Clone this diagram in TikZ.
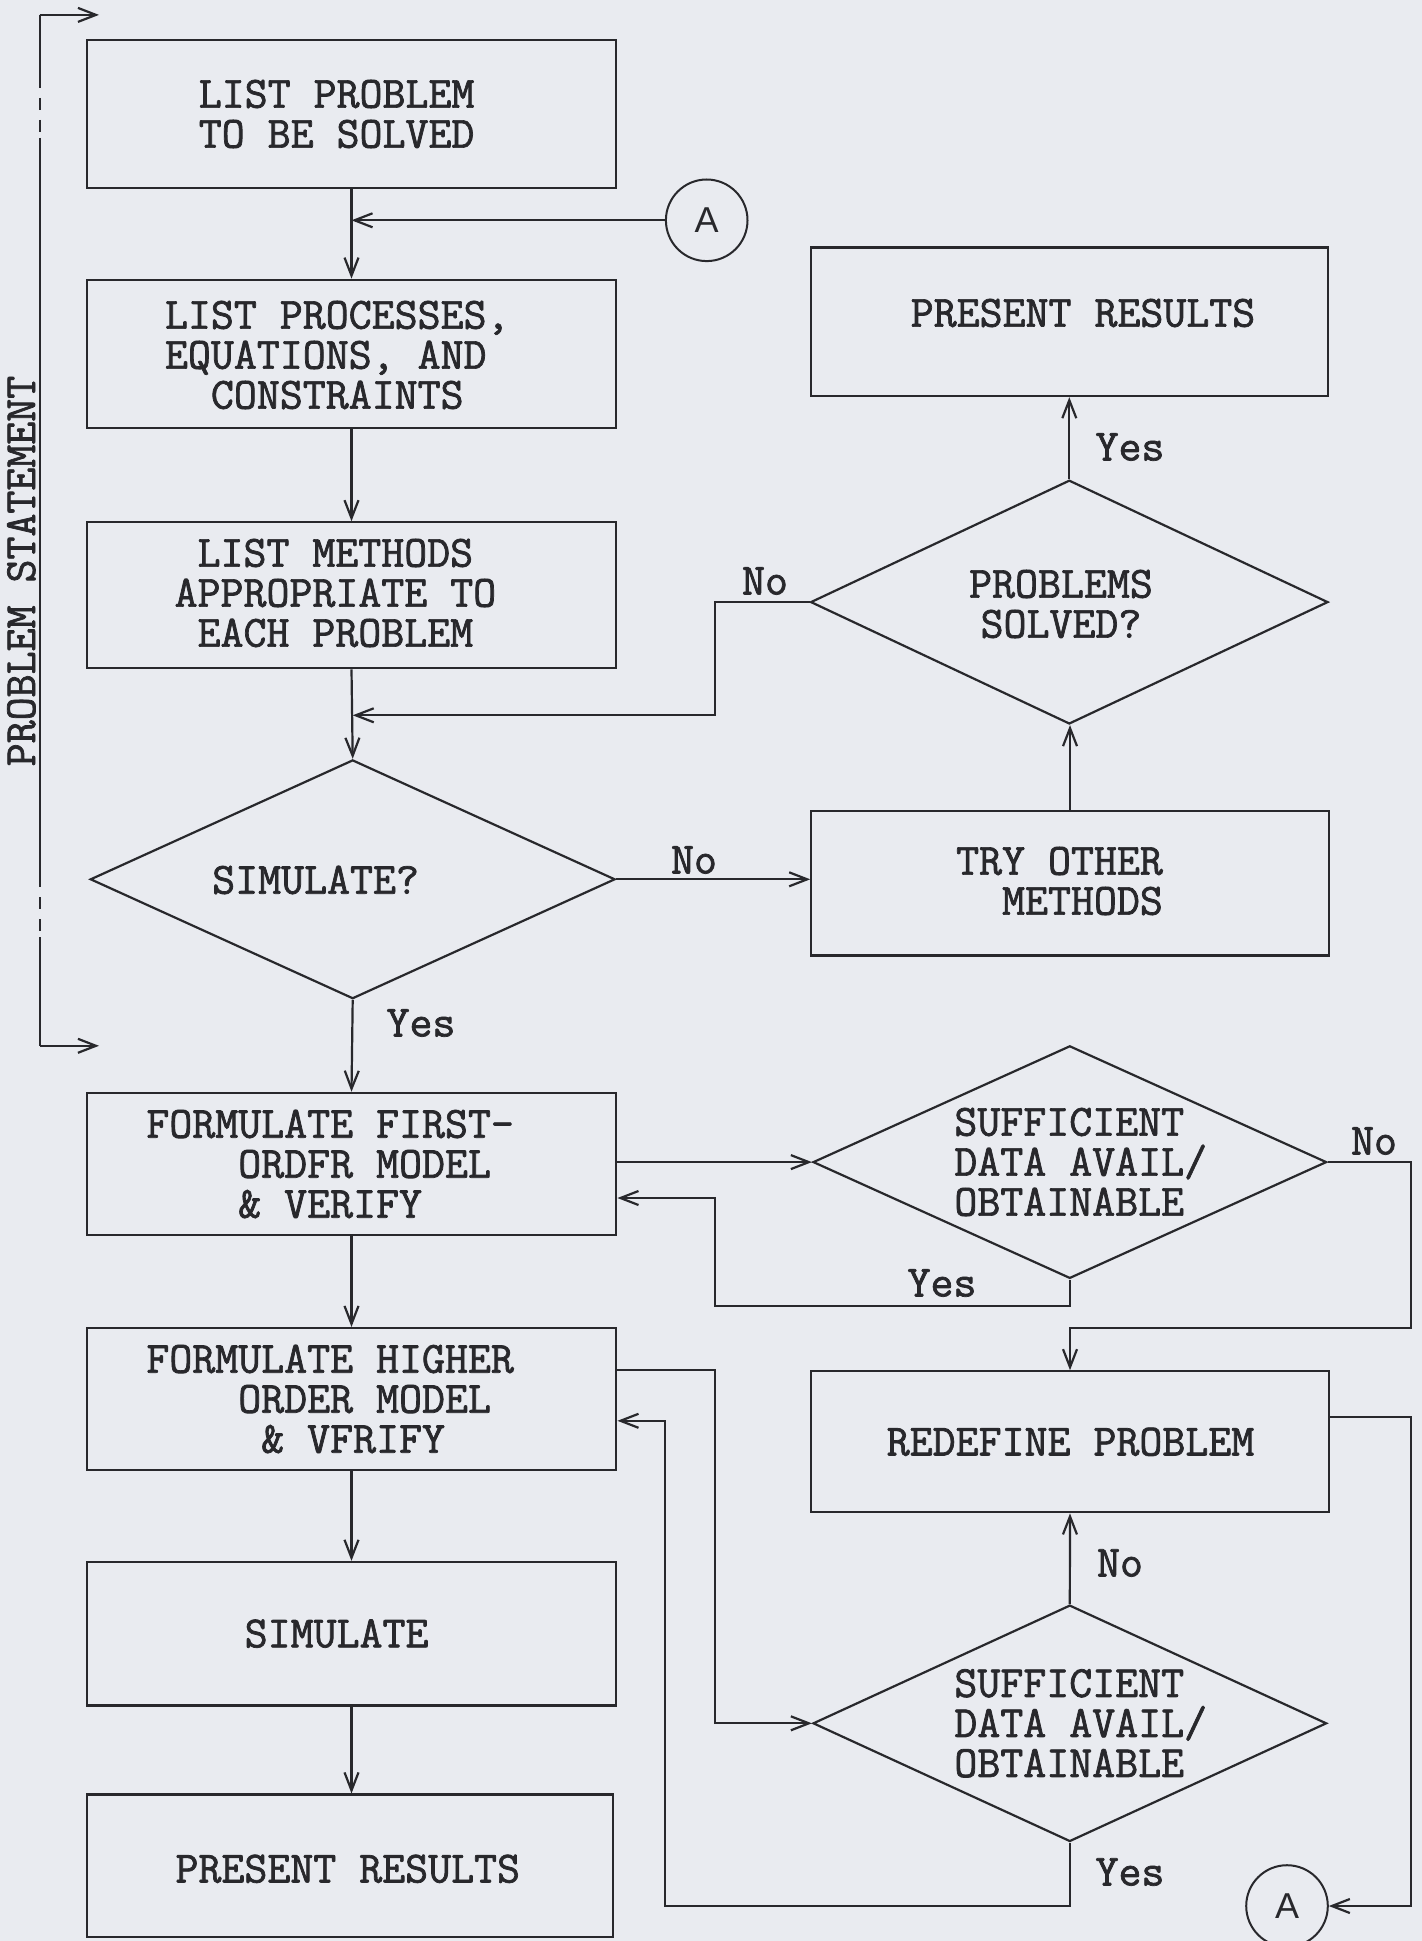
\documentclass[tikz,border=0pt]{standalone}
\usepackage{fontspec}
\setmonofont{Latin Modern Mono}[FakeBold=1.6]
\newfontfamily\circfont{Liberation Sans}
\usetikzlibrary{arrows.meta,shapes.geometric,calc}
\definecolor{paper}{RGB}{233,235,240}
\definecolor{ink}{RGB}{40,40,44}
\newcommand\twfont{\ttfamily\fontsize{22.3}{20}\selectfont}
\begin{document}
\begin{tikzpicture}[x=0.5pt,y=-0.5pt,
  box/.style={draw=ink,line width=1.1pt,rectangle,inner sep=0pt},
  lbox/.style={box,minimum width=264.85pt},
  rbox/.style={box,minimum width=258.7pt},
  dia/.style={draw=ink,line width=1.1pt,diamond,inner sep=0pt},
  tw/.style={font=\twfont,text=ink,inner sep=0pt},
  lbl/.style={font=\twfont,text=ink,inner sep=0pt},
  conn/.style={draw=ink,line width=1.1pt,-{Straight Barb[length=9pt,width=7pt]}},
  plain/.style={draw=ink,line width=1.1pt},
  circ/.style={circle,draw=ink,line width=1pt,minimum size=40.8pt,inner sep=0pt,
    font=\circfont\fontsize{18}{18}\selectfont,text=ink}]
\fill[paper] (0,0) rectangle (1422,1941);
\useasboundingbox (0,0) rectangle (1422,1941);

% ---- left column boxes
\node[lbox,minimum height=74.25pt] (b1) at (351.5,113.9) {};
\node[tw,align=center] (b1t) at (336.6,114) {LIST PROBLEM\\TO BE SOLVED};
\node[lbox,minimum height=74.25pt] (b2) at (351.5,354) {};
\node[tw,align=left,anchor=west] (b2t) at (164.6,355) {LIST PROCESSES,\\EQUATIONS, AND\\\phantom{XX}CONSTRAINTS};
\node[lbox,minimum height=73pt] (b3) at (351.5,595.3) {};
\node[tw,align=center] (b3t) at (335.4,593) {LIST METHODS\\APPROPRIATE TO\\EACH PROBLEM};
\node[dia,minimum width=262.4pt,minimum height=119.4pt] (sim) at (352.7,879.3) {};
\node[tw] (simt) at (315.6,880) {SIMULATE?};
\node[lbox,minimum height=71.15pt] (first) at (351.5,1164) {};
\node[tw,align=left,anchor=west] (firstt) at (146,1164) {FORMULATE FIRST-\\\phantom{XXXX}ORDFR MODEL\\\phantom{XXXX}\& VERIFY};
\node[lbox,minimum height=71.15pt] (higher) at (351.5,1399.2) {};
\node[tw,align=left,anchor=west] (highert) at (146,1399) {FORMULATE HIGHER\\\phantom{XXXX}ORDER MODEL\\\phantom{XXXXX}\& VFRIFY};
\node[lbox,minimum height=71.75pt] (simbox) at (351.5,1633.7) {};
\node[tw] (simboxt) at (336.6,1633.6) {SIMULATE};
\node[box,minimum width=263pt,minimum height=71.15pt] (pres2) at (349.6,1865.7) {};
\node[tw] (pres2t) at (347.8,1868.8) {PRESENT RESULTS};

% ---- right column
\node[rbox,minimum height=74.25pt] (pres1) at (1069.3,321.8) {};
\node[tw] (pres1t) at (1083,313) {PRESENT RESULTS};
\node[dia,minimum width=258.7pt,minimum height=121.9pt] (ps) at (1069.3,602.1) {};
\node[tw,align=center] (pst) at (1061,604) {PROBLEMS\\SOLVED?};
\node[rbox,minimum height=72.4pt] (try) at (1070,883) {};
\node[tw,align=right] (tryt) at (1059.5,881) {TRY OTHER\\METHODS};
\node[dia,minimum width=256.8pt,minimum height=116.3pt] (d1) at (1069.8,1162.1) {};
\node[tw,align=left,anchor=west] (d1t) at (954,1162) {SUFFICIENT\\DATA AVAIL/\\OBTAINABLE};
\node[rbox,minimum height=70.5pt] (redef) at (1070,1441.8) {};
\node[tw] (redeft) at (1070.5,1441.8) {REDEFINE PROBLEM};
\node[dia,minimum width=256.8pt,minimum height=118.2pt] (d2) at (1069.8,1723.3) {};
\node[tw,align=left,anchor=west] (d2t) at (954,1723.3) {SUFFICIENT\\DATA AVAIL/\\OBTAINABLE};

% ---- connectors (circles)
\node[circ] (Atop) at (706.7,220.3) {A};
\node[circ] (Abot) at (1287,1906) {A};

% ---- problem statement bracket
\coordinate (bt0) at (39.6,14.9);
\coordinate (bt1) at (99,14.9);
\coordinate (bb0) at (39.6,1045.8);
\coordinate (bb1) at (99,1045.8);
\coordinate (bd1) at (39.6,76);
\coordinate (bd2) at (39.6,138);
\coordinate (bd3) at (39.6,875);
\coordinate (bd4) at (39.6,937);
\draw[plain] (bt0) -- (bd1);
\draw[plain,dash pattern=on 6pt off 5pt] (bd1) -- (bd2);
\draw[plain] (bd2) -- (bd3);
\draw[plain,dash pattern=on 6pt off 5pt] (bd3) -- (bd4);
\draw[plain] (bd4) -- (bb0);
\draw[conn] (bt0) -- (bt1);
\draw[conn] (bb0) -- (bb1);
\node[tw,rotate=90,anchor=base] (pslbl) at (35,571) {PROBLEM STATEMENT};

% ---- main flow
\draw[conn] (b1.south) -- (b2.north);
\draw[conn] (Atop.west) -- (Atop.west -| b1.south);
\draw[conn] (b2.south) -- (b3.north);
\draw[conn] (b3.south) -- (sim.north);
\draw[conn] (sim.east) -- (sim.east -| try.west);
\node[lbl] (lno1) at (694,860) {No};
\draw[conn] (try.north) -- (try.north |- ps.south);
\draw[conn] (ps.north) -- (ps.north |- pres1.south);
\node[lbl] (lyes1) at (1130,447) {Yes};
\coordinate (j1) at (715.3,715.3);
\draw[conn] (ps.west) -| (j1) -- (j1 -| sim.north);
\node[lbl] (lno2) at (765,581) {No};
\draw[conn] (sim.south) -- (first.north);
\node[lbl] (lyes2) at (421,1023) {Yes};

\draw[conn] (d1.west -| first.east) -- (d1.west);
\coordinate (j2) at (715.3,1305.7);
\coordinate (f1in) at ($(first.east)+(0,34)$);
\draw[conn] (d1.south) |- (j2) |- (f1in);
\node[lbl] (lyes3) at (942,1283) {Yes};
\coordinate (j3) at (1410.9,1328);
\draw[conn] (d1.east) -| (j3) -| (redef.north);
\node[lbl] (lno3) at (1374,1141) {No};

\draw[conn] (first.south) -- (higher.north);
\coordinate (h1out) at ($(higher.east)+(0,-29)$);
\coordinate (j5) at (715.3,1723.3);
\draw[conn] (h1out) -| (j5) -- (d2.west);
\coordinate (j6) at (664.6,1906);
\coordinate (h1in) at ($(higher.east)+(0,21.6)$);
\draw[conn] (d2.south) |- (j6) |- (h1in);
\node[lbl] (lyes4) at (1130,1872) {Yes};
\draw[conn] (d2.north) -- (redef.south);
\node[lbl] (lno4) at (1120,1563) {No};
\coordinate (rout) at ($(redef.east)+(0,-24.8)$);
\coordinate (j7) at (1410.9,1906);
\draw[conn] (rout) -| (j7) -- (Abot.east);

\draw[conn] (higher.south) -- (simbox.north);
\draw[conn] (simbox.south) -- (simbox.south |- pres2.north);
\end{tikzpicture}
\end{document}
